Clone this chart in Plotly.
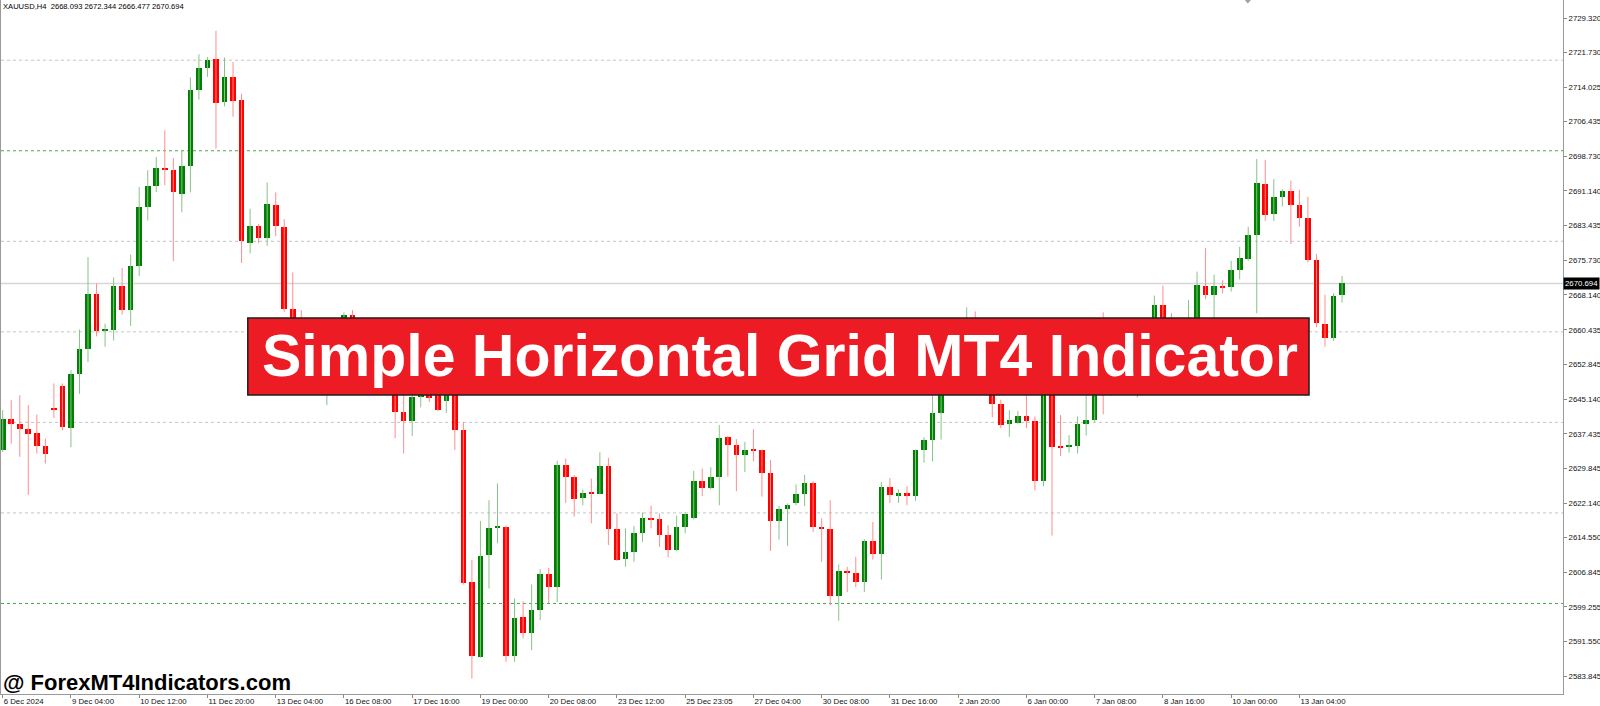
import plotly.graph_objects as go

# XAUUSD H4 candles (oldest first)
opens = [
    2633.8, 2640.8, 2639.7, 2638.6, 2637.7, 2634.7, 2643.1, 2648.0, 2638.8, 2650.6,
    2656.3, 2668.3, 2660.3, 2660.5, 2670.1, 2664.8, 2674.6, 2687.5, 2692.2, 2696.1,
    2695.8, 2690.5, 2696.7, 2713.4, 2718.3, 2720.2, 2710.7, 2716.4, 2711.3, 2679.6,
    2683.4, 2680.7, 2688.1, 2683.1, 2665.0, 2663.0, 2654.0, 2650.0, 2653.0, 2656.0,
    2660.0, 2663.7, 2658.0, 2654.0, 2656.0, 2650.0, 2648.5, 2642.4, 2640.3, 2645.7,
    2646.3, 2646.5, 2644.7, 2647.5, 2638.3, 2604.8, 2588.2, 2610.7, 2616.7, 2616.9,
    2588.4, 2596.9, 2593.5, 2598.5, 2606.5, 2603.7, 2630.5, 2628.0, 2623.4, 2624.6,
    2624.1, 2630.4, 2616.4, 2609.9, 2611.3, 2615.6, 2618.9, 2618.6, 2615.2, 2611.8,
    2616.8, 2618.8, 2627.1, 2625.4, 2628.0, 2636.8, 2635.1, 2632.8, 2633.9, 2633.8,
    2628.9, 2618.3, 2620.8, 2622.1, 2624.2, 2626.7, 2617.0, 2616.4, 2601.7, 2607.2,
    2606.8, 2604.7, 2613.9, 2611.0, 2625.8, 2623.7, 2624.5, 2623.7, 2633.8, 2636.1,
    2642.1, 2649.0, 2653.0, 2658.0, 2661.0, 2656.0, 2651.0, 2644.0, 2639.6, 2639.8,
    2641.3, 2640.4, 2627.0, 2649.0, 2634.6, 2634.6, 2634.8, 2639.6, 2640.5, 2652.0,
    2647.0, 2652.0, 2649.0, 2653.0, 2656.0, 2658.0, 2665.9, 2659.0, 2661.0, 2657.0,
    2661.0, 2670.2, 2668.2, 2670.2, 2669.9, 2673.6, 2676.2, 2681.4, 2692.6, 2686.0,
    2689.7, 2691.2, 2688.0, 2685.1, 2675.9, 2661.8, 2658.7, 2668.093,
]
highs = [
    2642.7, 2644.9, 2646.0, 2643.8, 2641.7, 2636.4, 2648.6, 2648.6, 2651.5, 2660.5,
    2676.5, 2670.7, 2661.8, 2672.0, 2674.1, 2677.1, 2692.0, 2695.7, 2698.6, 2704.5,
    2698.4, 2700.1, 2716.2, 2721.3, 2720.7, 2726.5, 2720.6, 2719.6, 2712.6, 2687.2,
    2683.8, 2693.0, 2690.8, 2684.9, 2673.1, 2664.8, 2657.0, 2655.0, 2658.0, 2661.0,
    2664.3, 2664.8, 2660.0, 2658.0, 2658.0, 2654.0, 2650.0, 2646.0, 2647.0, 2647.0,
    2647.5, 2647.5, 2647.5, 2648.5, 2640.1, 2609.6, 2618.2, 2622.8, 2626.5, 2617.2,
    2601.1, 2600.5, 2604.2, 2607.6, 2607.9, 2631.5, 2632.0, 2628.4, 2625.2, 2627.6,
    2633.4, 2632.2, 2619.9, 2616.6, 2617.1, 2620.1, 2621.6, 2619.9, 2617.3, 2619.4,
    2620.1, 2629.3, 2629.8, 2630.1, 2639.4, 2637.0, 2636.3, 2635.7, 2638.5, 2634.0,
    2631.7, 2621.5, 2622.1, 2626.3, 2628.4, 2627.0, 2618.8, 2622.8, 2608.6, 2608.1,
    2610.3, 2614.2, 2618.0, 2626.8, 2627.7, 2625.2, 2625.9, 2634.0, 2636.7, 2646.0,
    2651.0, 2655.0, 2660.0, 2665.4, 2664.5, 2658.0, 2653.0, 2645.0, 2642.7, 2642.5,
    2646.0, 2641.3, 2651.0, 2652.0, 2641.6, 2637.2, 2641.3, 2646.0, 2650.0, 2664.3,
    2654.0, 2656.0, 2655.0, 2658.0, 2661.0, 2668.0, 2670.2, 2664.1, 2662.5, 2667.0,
    2673.3, 2678.5, 2672.6, 2671.4, 2675.7, 2678.8, 2683.2, 2698.2, 2698.0, 2693.7,
    2691.5, 2693.4, 2691.4, 2689.8, 2677.2, 2668.2, 2668.5, 2672.344,
]
lows = [
    2633.5, 2635.3, 2632.4, 2624.0, 2633.1, 2630.9, 2641.0, 2638.2, 2634.5, 2646.3,
    2653.3, 2659.0, 2656.7, 2658.1, 2663.8, 2661.3, 2672.3, 2684.6, 2690.9, 2692.4,
    2675.6, 2686.4, 2690.8, 2711.3, 2716.3, 2700.5, 2709.8, 2707.5, 2675.2, 2677.3,
    2679.6, 2679.0, 2681.2, 2664.4, 2662.0, 2652.0, 2648.0, 2647.0, 2643.8, 2652.0,
    2657.0, 2656.0, 2652.0, 2650.0, 2648.0, 2647.0, 2636.5, 2633.1, 2637.0, 2643.3,
    2644.5, 2642.5, 2642.1, 2633.9, 2604.2, 2583.4, 2588.0, 2603.3, 2613.3, 2587.1,
    2587.1, 2592.3, 2589.7, 2596.3, 2600.1, 2600.3, 2622.2, 2619.2, 2621.7, 2617.7,
    2624.1, 2612.9, 2609.4, 2608.1, 2609.2, 2613.6, 2616.6, 2612.5, 2610.2, 2611.6,
    2615.5, 2618.6, 2623.7, 2625.2, 2621.7, 2628.0, 2624.8, 2629.0, 2631.4, 2623.6,
    2611.6, 2614.1, 2612.7, 2621.7, 2621.5, 2615.8, 2609.2, 2599.6, 2596.2, 2602.5,
    2603.6, 2602.5, 2609.7, 2605.3, 2622.2, 2622.2, 2621.7, 2622.7, 2631.1, 2631.4,
    2636.2, 2647.0, 2651.0, 2655.0, 2654.0, 2649.0, 2641.1, 2638.7, 2636.8, 2639.6,
    2638.7, 2625.0, 2625.9, 2615.0, 2632.6, 2633.3, 2633.1, 2637.1, 2640.1, 2641.8,
    2645.8, 2647.5, 2647.0, 2645.5, 2652.0, 2655.0, 2656.0, 2655.0, 2653.0, 2654.0,
    2658.0, 2667.2, 2662.8, 2668.5, 2668.9, 2671.6, 2675.7, 2664.1, 2684.5, 2684.5,
    2687.7, 2679.4, 2683.2, 2675.3, 2661.0, 2656.7, 2658.0, 2666.477,
]
closes = [
    2640.8, 2639.7, 2638.5, 2637.5, 2634.7, 2633.1, 2642.8, 2639.0, 2650.6, 2656.3,
    2668.4, 2660.2, 2660.6, 2670.1, 2664.8, 2674.6, 2687.6, 2692.2, 2696.1, 2695.8,
    2690.8, 2696.7, 2713.4, 2718.2, 2720.0, 2710.6, 2716.3, 2711.1, 2680.0, 2683.3,
    2680.7, 2688.3, 2683.3, 2665.0, 2663.0, 2654.0, 2650.0, 2653.0, 2656.0, 2660.0,
    2663.7, 2658.0, 2654.0, 2656.0, 2650.0, 2648.5, 2642.4, 2640.3, 2645.7, 2646.5,
    2645.3, 2642.7, 2647.0, 2638.3, 2604.6, 2588.4, 2610.5, 2616.7, 2616.9, 2588.4,
    2596.8, 2593.5, 2598.5, 2606.5, 2603.7, 2630.5, 2628.0, 2623.0, 2624.5, 2624.2,
    2630.4, 2616.4, 2609.7, 2611.3, 2615.6, 2618.8, 2618.6, 2615.2, 2611.8, 2616.8,
    2619.8, 2627.1, 2625.6, 2628.0, 2636.6, 2635.0, 2632.8, 2633.9, 2633.7, 2628.9,
    2618.2, 2620.8, 2621.7, 2624.1, 2626.7, 2617.0, 2616.5, 2601.7, 2607.2, 2606.8,
    2604.7, 2613.9, 2611.0, 2625.8, 2623.9, 2624.4, 2623.7, 2633.8, 2636.1, 2642.1,
    2649.0, 2653.0, 2658.0, 2661.0, 2656.0, 2651.0, 2644.0, 2639.4, 2640.5, 2641.3,
    2640.4, 2627.0, 2649.0, 2634.5, 2634.5, 2634.8, 2639.6, 2640.6, 2648.0, 2647.0,
    2652.0, 2649.0, 2653.0, 2656.0, 2658.0, 2665.9, 2659.0, 2661.0, 2657.0, 2661.0,
    2670.3, 2668.2, 2670.2, 2669.9, 2673.7, 2676.3, 2681.4, 2692.8, 2685.9, 2689.7,
    2691.2, 2688.0, 2685.1, 2675.9, 2661.9, 2658.7, 2668.0, 2670.694,
]

# time axis labels, one every 8 bars
time_labels = [
    "6 Dec 2024", "9 Dec 04:00", "10 Dec 12:00", "11 Dec 20:00", "13 Dec 04:00",
    "16 Dec 08:00", "17 Dec 16:00", "19 Dec 00:00", "20 Dec 08:00", "23 Dec 12:00",
    "25 Dec 23:05", "27 Dec 04:00", "30 Dec 08:00", "31 Dec 16:00", "2 Jan 20:00",
    "6 Jan 00:00", "7 Jan 08:00", "8 Jan 16:00", "10 Jan 00:00", "13 Jan 04:00",
]
label_step = 8

price_ticks = [
    2729.320, 2721.730, 2714.025, 2706.435, 2698.730, 2691.140, 2683.435, 2675.730,
    2668.140, 2660.435, 2652.845, 2645.140, 2637.435, 2629.845, 2622.140, 2614.550,
    2606.845, 2599.255, 2591.550, 2583.845,
]

# levels drawn by the grid indicator
minor_levels = [2720, 2680, 2660, 2640, 2620]
major_levels = [2700, 2600]
last_price = 2670.694

GREEN = "#008000"
RED = "#ff0000"
GREEN_WICK = "rgb(135,195,135)"
RED_WICK = "rgb(255,140,140)"
FONT = "Liberation Sans, Arial"

idx = list(range(len(opens)))
up = [i for i in idx if closes[i] >= opens[i]]
dn = [i for i in idx if closes[i] < opens[i]]


def wick_xy(ids):
    xs, ys = [], []
    for i in ids:
        xs += [i, i, None]
        ys += [lows[i], highs[i], None]
    return xs, ys


def body(ids):
    base = [min(opens[i], closes[i]) for i in ids]
    h = [max(abs(closes[i] - opens[i]), 0.25) for i in ids]
    return base, h


fig = go.Figure()

# wicks first so bodies sit on top
for ids, col in [(up, GREEN_WICK), (dn, RED_WICK)]:
    wx, wy = wick_xy(ids)
    fig.add_trace(go.Scatter(x=wx, y=wy, mode="lines", line=dict(color=col, width=1),
                             hoverinfo="skip", showlegend=False))

for ids, col in [(up, GREEN), (dn, RED)]:
    base, h = body(ids)
    fig.add_trace(go.Bar(x=ids, y=h, base=base, width=0.66, marker=dict(color=col, line=dict(width=0)),
                         showlegend=False))

# grid indicator lines
for lvl in minor_levels:
    fig.add_shape(type="line", xref="paper", yref="y", x0=0, x1=1, y0=lvl, y1=lvl,
                  line=dict(color="#c4c4c4", width=1, dash="dot"), layer="below")
for lvl in major_levels:
    fig.add_shape(type="line", xref="paper", yref="y", x0=0, x1=1, y0=lvl, y1=lvl,
                  line=dict(color="#4aa84a", width=1, dash="dot"), layer="below")
# bid line
fig.add_shape(type="line", xref="paper", yref="y", x0=0, x1=1, y0=last_price, y1=last_price,
              line=dict(color="#d6d6d6", width=1.5), layer="below")

# chart shift marker at the top edge
fig.add_shape(type="path", xref="paper", yref="paper",
              path="M 0.7963,1 L 0.8002,1 L 0.7982,0.995 Z",
              fillcolor="#a0a0a0", line=dict(width=0))

# title banner
fig.add_shape(type="rect", xref="paper", yref="paper", x0=0.158, x1=0.8374, y0=0.431, y1=0.5418,
              fillcolor="#ed1c24", line=dict(color="#1e1e1e", width=1.5), layer="above")
fig.add_annotation(text="Simple Horizontal Grid MT4 Indicator", xref="paper", yref="paper",
                   x=0.4987, y=0.487, showarrow=False, xanchor="center", yanchor="middle",
                   font=dict(family=FONT, size=59, color="white", weight="bold"))

# symbol header
fig.add_annotation(text="XAUUSD,H4  2668.093 2672.344 2666.477 2670.694", xref="paper", yref="paper",
                   x=0.0, y=1.0, xanchor="left", yanchor="top", showarrow=False,
                   font=dict(family=FONT, size=7.6, color="black"))

# watermark
fig.add_annotation(text="@ ForexMT4Indicators.com", xref="paper", yref="paper",
                   x=0.0, y=0.016, xanchor="left", yanchor="middle", showarrow=False,
                   font=dict(family=FONT, size=22, color="black", weight="bold"))

# current price tag on the price scale
fig.add_annotation(text=f"{last_price:.3f}", xref="paper", yref="y", x=1.0, y=last_price,
                   xanchor="left", yanchor="middle", showarrow=False, bgcolor="black",
                   borderpad=1, xshift=0,
                   font=dict(family=FONT, size=7.8, color="white"))

fig.update_layout(
    width=1600, height=706,
    margin=dict(l=1, r=37, t=0, b=12),
    plot_bgcolor="white", paper_bgcolor="white",
    barmode="overlay",
    bargap=0,
    showlegend=False,
    font=dict(family=FONT, size=7.8, color="#111111"),
)
fig.update_xaxes(
    range=[-0.2, 182.9], showgrid=False, zeroline=False, automargin=False,
    tickvals=[k * label_step for k in range(len(time_labels))], ticktext=time_labels,
    ticks="outside", ticklen=3, tickcolor="#888888",
    ticklabelposition="outside right",
    showline=True, linecolor="#9a9a9a", linewidth=1, mirror=False,
)
fig.update_yaxes(
    range=[2580.0, 2733.3], side="right", showgrid=False, zeroline=False, automargin=False,
    tickvals=price_ticks, ticktext=[f"{v:.3f}" for v in price_ticks],
    ticks="outside", ticklen=3, tickcolor="#888888", ticklabelstandoff=0,
    showline=True, linecolor="#9a9a9a", linewidth=1, mirror=True,
)

fig.write_html("out.html", config={"displayModeBar": False},
               post_script="document.body.style.margin='0';document.body.style.overflow='hidden';")
